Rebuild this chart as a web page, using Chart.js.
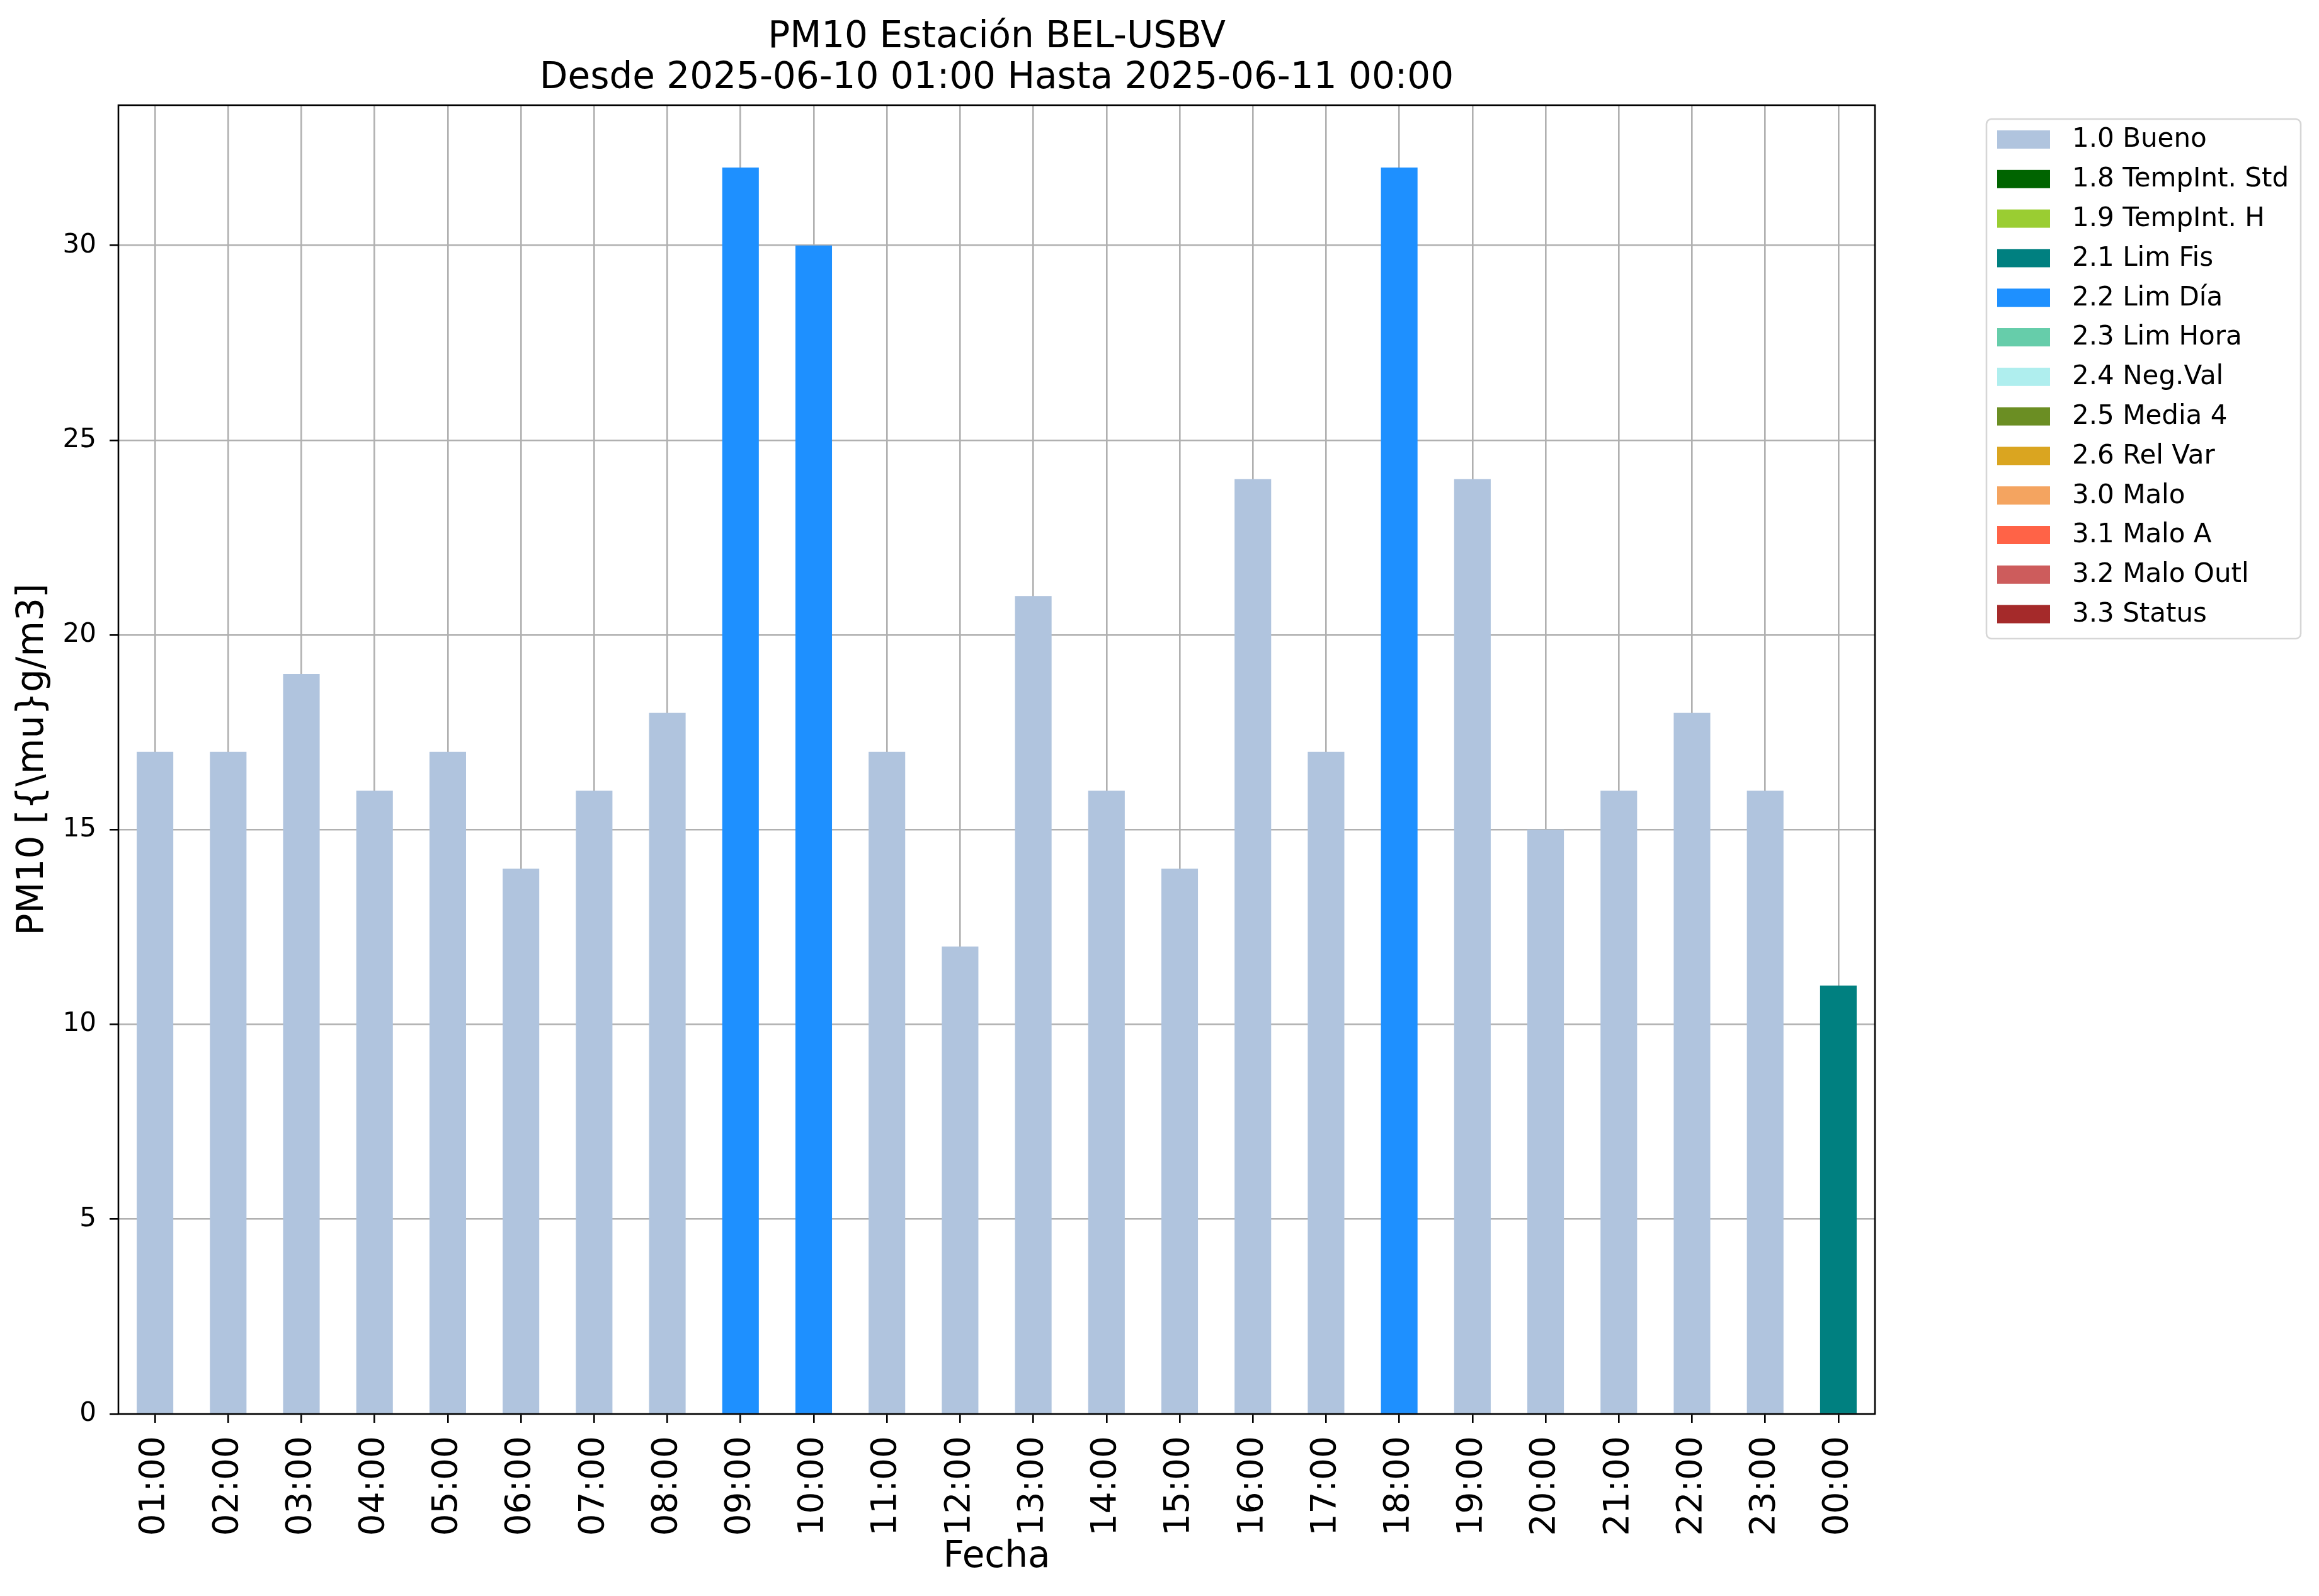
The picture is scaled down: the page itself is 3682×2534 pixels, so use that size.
<!DOCTYPE html>
<html><head><meta charset="utf-8">
<script src="https://cdn.jsdelivr.net/npm/chart.js@4"></script>
<style>html,body{margin:0;padding:0;background:#fff;overflow:hidden}</style>
</head><body>
<canvas id="c" width="3682" height="2534" style="width:3682px;height:2534px;display:block"></canvas>
<script>
const titleLines = ['PM10 Estación BEL-USBV', 'Desde 2025-06-10 01:00 Hasta 2025-06-11 00:00'];
const xAxisTitle = 'Fecha';
const yAxisTitle = 'PM10 [{\\mu}g/m3]';
const hours = ['01:00','02:00','03:00','04:00','05:00','06:00','07:00','08:00','09:00','10:00','11:00','12:00',
               '13:00','14:00','15:00','16:00','17:00','18:00','19:00','20:00','21:00','22:00','23:00','00:00'];
const pm10 = [17,17,19,16,17,14,16,18,32,30,17,12,21,16,14,24,17,32,24,15,16,18,16,11];
const hourFlags = ['1.0 Bueno','1.0 Bueno','1.0 Bueno','1.0 Bueno','1.0 Bueno','1.0 Bueno','1.0 Bueno','1.0 Bueno',
                   '2.2 Lim Día','2.2 Lim Día','1.0 Bueno','1.0 Bueno','1.0 Bueno','1.0 Bueno','1.0 Bueno','1.0 Bueno',
                   '1.0 Bueno','2.2 Lim Día','1.0 Bueno','1.0 Bueno','1.0 Bueno','1.0 Bueno','1.0 Bueno','2.1 Lim Fis'];
const flagLabels = ['1.0 Bueno','1.8 TempInt. Std','1.9 TempInt. H','2.1 Lim Fis','2.2 Lim Día','2.3 Lim Hora',
                    '2.4 Neg.Val','2.5 Media 4','2.6 Rel Var','3.0 Malo','3.1 Malo A','3.2 Malo Outl','3.3 Status'];
const flagColors = ['#B0C4DE','#006400','#9ACD32','#008080','#1E90FF','#66CDAA',
                    '#AFEEEE','#6B8E23','#DAA520','#F4A460','#FF6347','#CD5C5C','#A52A2A'];
const yMin = 0, yMax = 33.6, yStep = 5;

const FONT = "'DejaVu Sans', sans-serif";

const datasets = flagLabels.map((lab, i) => ({
  label: lab,
  data: pm10.map((v, j) => hourFlags[j] === lab ? v : null),
  backgroundColor: flagColors[i],
  borderWidth: 0,
  barPercentage: 0.5,
  categoryPercentage: 1.0,
  stack: 's'
}));

const decor = {
  id: 'decor',
  afterDraw(chart) {
    const ctx = chart.ctx;
    const a = chart.chartArea;
    ctx.save();
    // spines
    ctx.strokeStyle = '#000';
    ctx.lineWidth = 2.6;
    ctx.strokeRect(a.left, a.top, a.right - a.left, a.bottom - a.top);
    // title
    ctx.fillStyle = '#000';
    ctx.font = '58px ' + FONT;
    ctx.textAlign = 'center';
    ctx.textBaseline = 'alphabetic';
    const cx = (a.left + a.right) / 2;
    ctx.fillText(titleLines[0], cx, 75);
    ctx.fillText(titleLines[1], cx, 140);
    // legend
    const lx = 3154, ly = 189, lw = 499, lh = 825;
    ctx.beginPath();
    ctx.roundRect(lx, ly, lw, lh, 8);
    ctx.fillStyle = 'rgba(255,255,255,0.8)';
    ctx.fill();
    ctx.strokeStyle = '#d6d6d6';
    ctx.lineWidth = 2.6;
    ctx.stroke();
    ctx.font = '42px ' + FONT;
    ctx.textAlign = 'left';
    ctx.textBaseline = 'middle';
    chart.data.datasets.forEach((ds, i) => {
      const cy = 221.5 + i * 62.8;
      ctx.fillStyle = ds.backgroundColor;
      ctx.fillRect(3171, cy - 14.5, 84, 29);
      ctx.fillStyle = '#000';
      ctx.fillText(ds.label, 3290, cy + 1);
    });
    ctx.restore();
  }
};

new Chart(document.getElementById('c'), {
  type: 'bar',
  data: { labels: hours, datasets },
  options: {
    responsive: false,
    animation: false,
    devicePixelRatio: 1,
    layout: { padding: { left: 0, top: 167, right: 705, bottom: 0 } },
    plugins: { legend: { display: false }, title: { display: false }, tooltip: { enabled: false } },
    scales: {
      x: {
        stacked: true,
        offset: true,
        z: 1,
        grid: { color: '#b0b0b0', lineWidth: 2.6, offset: false, tickColor: '#000', tickLength: 14, tickWidth: 2.6 },
        border: { display: false },
        ticks: { autoSkip: false, minRotation: 90, maxRotation: 90, color: '#000', padding: 21, font: { family: FONT, size: 55 } },
        title: { display: true, text: xAxisTitle, color: '#000', font: { family: FONT, size: 58 }, padding: { top: 0, bottom: 26 } },
        afterFit(s) { s.height = 289; }
      },
      y: {
        stacked: true,
        min: yMin,
        max: yMax,
        z: 1,
        grid: { color: '#b0b0b0', lineWidth: 2.6, tickColor: '#000', tickLength: 14, tickWidth: 2.6 },
        border: { display: false },
        ticks: { stepSize: yStep, includeBounds: false, color: '#000', padding: 21, font: { family: FONT, size: 42 } },
        title: { display: true, text: yAxisTitle, color: '#000', font: { family: FONT, size: 58 }, padding: { top: 18, bottom: 0 } },
        afterFit(s) { s.width = 188; }
      }
    }
  },
  plugins: [decor]
});
</script>
</body></html>
